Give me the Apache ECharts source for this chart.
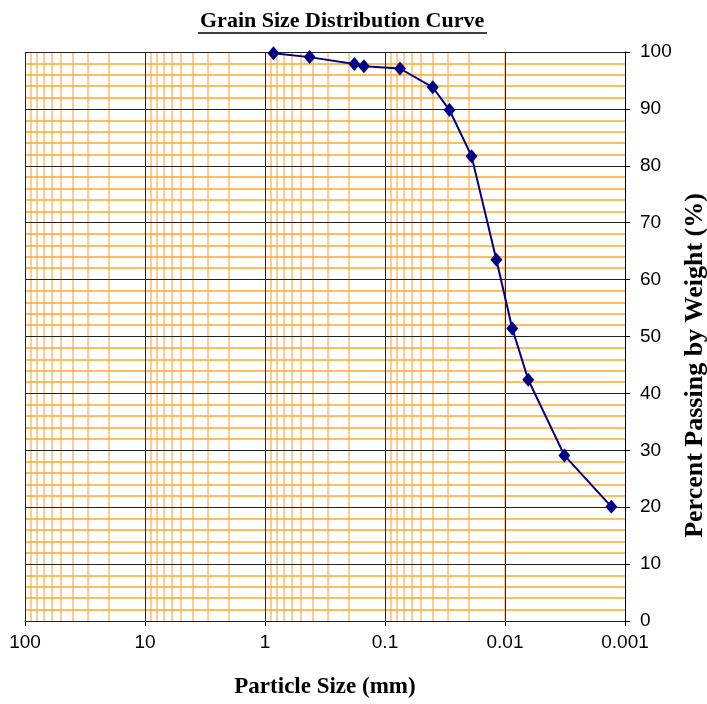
<!DOCTYPE html>
<html>
<head>
<meta charset="utf-8">
<script src="https://cdn.jsdelivr.net/npm/echarts@6/dist/echarts.min.js"></script>
<style>
  html, body { margin: 0; padding: 0; background: #fff; }
  #chart { width: 707px; height: 704px; }
</style>
</head>
<body>
<div id="chart"></div>
<script>
// sieve / hydrometer results
var particleSize = [0.85, 0.425, 0.18, 0.15, 0.075, 0.04, 0.029, 0.019, 0.0118, 0.0087, 0.0064, 0.0032, 0.0013];
var percentPassing = [99.8, 99.1, 97.9, 97.5, 97.1, 93.8, 89.8, 81.7, 63.5, 51.4, 42.4, 29.1, 20.1];

// grid lines / ticks
var xTickLabels = ['100', '10', '1', '0.1', '0.01', '0.001'];
var decades = [0.001, 0.01, 0.1, 1, 10, 100];
var minorMultipliers = [2, 3, 4, 5, 6, 7, 8, 9];
var majorPercents = [0, 10, 20, 30, 40, 50, 60, 70, 80, 90, 100];
var minorPercents = [2, 4, 6, 8];

var dom = document.getElementById('chart');
var myChart = echarts.init(dom);

var vMinor = [];
decades.slice(0, 5).forEach(function (d) {
    minorMultipliers.forEach(function (m) { vMinor.push({ xAxis: d * m }); });
});
var hMinor = [];
majorPercents.slice(0, 10).forEach(function (p) {
    minorPercents.forEach(function (m) { hMinor.push({ yAxis: p + m }); });
});
var majorLines = [];
decades.forEach(function (d) { majorLines.push({ xAxis: d }); });
majorPercents.forEach(function (p) { majorLines.push({ yAxis: p }); });

function gridSeries(lines, color, width, z) {
    return {
        type: 'line',
        data: [],
        z: z,
        silent: true,
        markLine: {
            silent: true,
            animation: false,
            symbol: ['none', 'none'],
            label: { show: false },
            lineStyle: { type: 'solid', color: color, width: width },
            emphasis: { disabled: true },
            data: lines
        }
    };
}

var option = {
    animation: false,
    title: {
        text: 'Grain Size Distribution Curve',
        left: 195,
        top: 5,
        textStyle: {
            fontFamily: 'Liberation Serif',
            fontWeight: 'bold',
            fontSize: 22,
            color: '#000'
        }
    },
    graphic: [{
        type: 'line',
        shape: { x1: 198, y1: 33, x2: 487, y2: 33 },
        style: { stroke: '#000', lineWidth: 1.5 }
    }],
    grid: { left: 25, right: 82, top: 52, bottom: 83, outerBoundsMode: 'none' },
    xAxis: {
        type: 'log',
        logBase: 10,
        min: 0.001,
        max: 100,
        inverse: true,
        name: 'Particle Size (mm)',
        nameLocation: 'middle',
        nameGap: 55,
        nameTextStyle: {
            fontFamily: 'Liberation Serif',
            fontWeight: 'bold',
            fontSize: 23,
            color: '#000'
        },
        axisLine: { show: true, lineStyle: { color: '#000', width: 1 } },
        axisTick: { show: true, length: 5, lineStyle: { color: '#000' } },
        splitLine: { show: false },
        axisLabel: {
            margin: 12,
            fontFamily: 'Liberation Sans',
            fontSize: 19,
            color: '#000',
            formatter: function (v) {
                return xTickLabels[Math.round(2 - Math.log10(v))];
            }
        }
    },
    yAxis: {
        type: 'value',
        position: 'right',
        min: 0,
        max: 100,
        interval: 10,
        name: 'Percent Passing by Weight (%)',
        nameLocation: 'middle',
        nameRotate: 90,
        nameGap: 54,
        nameTextStyle: {
            fontFamily: 'Liberation Serif',
            fontWeight: 'bold',
            fontSize: 26,
            color: '#000',
            padding: [0, 58, 0, 0]
        },
        axisLine: { show: true, lineStyle: { color: '#000', width: 1 } },
        axisTick: { show: true, length: 5, lineStyle: { color: '#000' } },
        splitLine: { show: false },
        axisLabel: {
            margin: 15,
            fontFamily: 'Liberation Sans',
            fontSize: 19,
            color: '#000'
        }
    },
    series: [
        gridSeries(vMinor, '#FFCC99', 2, 1),
        gridSeries(hMinor, '#FFA826', 1.5, 2),
        gridSeries(majorLines, '#222', 1, 3),
        {
            name: 'Grain size',
            type: 'line',
            z: 5,
            data: particleSize.map(function (s, i) { return [s, percentPassing[i]]; }),
            symbol: 'diamond',
            symbolSize: [12, 14],
            lineStyle: { color: '#000080', width: 2 },
            itemStyle: { color: '#000080' }
        }
    ]
};
myChart.setOption(option);
</script>
</body>
</html>
